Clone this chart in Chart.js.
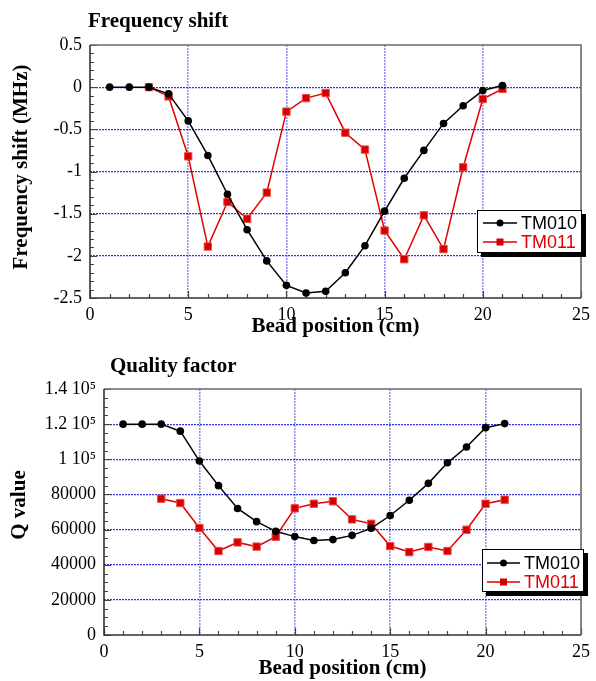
<!DOCTYPE html>
<html>
<head>
<meta charset="utf-8">
<script src="https://cdn.jsdelivr.net/npm/chart.js@4.4.1/dist/chart.umd.min.js"></script>
<style>
body { margin: 0; background: #fff; }
#wrap { position: relative; width: 596px; height: 681px; }
canvas { position: absolute; left: 0; }
</style>
</head>
<body>
<div id="wrap">
  <canvas id="freq" width="596" height="340" style="top:0px"></canvas>
  <canvas id="qual" width="596" height="341" style="top:340px"></canvas>
</div>
<script>
// bead positions (cm)
const positions010 = [1, 2, 3, 4, 5, 6, 7, 8, 9, 10, 11, 12, 13, 14, 15, 16, 17, 18, 19, 20, 21];
const positions011 = [3, 4, 5, 6, 7, 8, 9, 10, 11, 12, 13, 14, 15, 16, 17, 18, 19, 20, 21];

// frequency shift (MHz)
const shift010 = [0, 0, 0, -0.08, -0.40, -0.81, -1.27, -1.69, -2.06, -2.35, -2.44, -2.42, -2.20, -1.88, -1.47, -1.08, -0.75, -0.43, -0.22, -0.04, 0.02];
const shift011 = [0, -0.11, -0.82, -1.89, -1.36, -1.56, -1.25, -0.29, -0.13, -0.07, -0.54, -0.74, -1.70, -2.04, -1.52, -1.92, -0.95, -0.14, -0.02];

// quality factor
const q010 = [120000, 120000, 120000, 116000, 99000, 85000, 72000, 64500, 59000, 56000, 53800, 54300, 56700, 60700, 68000, 76700, 86300, 98000, 107000, 118000, 120300];
const q011 = [77600, 75100, 60900, 47800, 52700, 50300, 55900, 72100, 74700, 76100, 65800, 63300, 50600, 47200, 50100, 47800, 59900, 74700, 77000];

// special tick labels of the Q axis
const qTickLabels = { 140000: '1.4 10\u2075', 120000: '1.2 10\u2075', 100000: '1 10\u2075' };

const RED = '#e00000';
const SERIF = '"Liberation Serif", "Times New Roman", serif';
const SANS = '"Liberation Sans", Arial, sans-serif';

Chart.defaults.font.family = SERIF;
Chart.defaults.color = '#000';

function pairs(xs, ys) {
  return xs.map((x, i) => ({ x: x, y: ys[i] }));
}

function makeDatasets(y010, y011) {
  return [{
    label: 'TM010',
    data: pairs(positions010, y010),
    borderColor: '#000',
    backgroundColor: '#000',
    borderWidth: 1.5,
    pointStyle: 'circle',
    pointRadius: 3.8,
    pointBorderWidth: 0,
    tension: 0
  }, {
    label: 'TM011',
    data: pairs(positions011, y011),
    borderColor: RED,
    backgroundColor: '#d40000',
    borderWidth: 1.5,
    pointStyle: 'rect',
    pointRadius: 5.2,
    pointBorderColor: '#f04848',
    pointBorderWidth: 1,
    tension: 0
  }];
}

function isMajor(v, step) {
  return Math.abs(v / step - Math.round(v / step)) < 1e-6;
}

// frame, inward ticks, titles and the boxed legend
const decor = {
  id: 'decor',
  beforeDatasetsDraw(chart, args, o) {
    const { ctx, chartArea: a, scales: { x, y } } = chart;
    ctx.save();
    ctx.strokeStyle = '#444';
    ctx.lineWidth = 1.2;
    ctx.beginPath();
    for (let v = x.min; v <= x.max + 1e-9; v += o.xMinor) {
      const px = Math.round(x.getPixelForValue(v)) + 0.5;
      const len = isMajor(v, o.xMajor) ? 7 : 4;
      ctx.moveTo(px, a.bottom);
      ctx.lineTo(px, a.bottom - len);
    }
    const n = Math.round((y.max - y.min) / o.yMinor);
    for (let i = 0; i <= n; i++) {
      const v = y.min + i * o.yMinor;
      const py = Math.round(y.getPixelForValue(v)) + 0.5;
      const len = isMajor(v, o.yMajor) ? 7 : 4;
      ctx.moveTo(a.left, py);
      ctx.lineTo(a.left + len, py);
    }
    ctx.stroke();

    // frame
    ctx.lineWidth = 1.6;
    ctx.strokeStyle = '#6a6a6a';
    ctx.beginPath();
    ctx.moveTo(a.left, a.top);
    ctx.lineTo(a.right, a.top);
    ctx.lineTo(a.right, a.bottom);
    ctx.stroke();
    ctx.strokeStyle = '#333';
    ctx.beginPath();
    ctx.moveTo(a.left, a.top);
    ctx.lineTo(a.left, a.bottom);
    ctx.lineTo(a.right, a.bottom);
    ctx.stroke();
    ctx.restore();
  },
  afterDraw(chart, args, o) {
    const { ctx, chartArea: a } = chart;
    ctx.save();
    ctx.fillStyle = '#000';
    ctx.font = 'bold 21px ' + SERIF;
    ctx.textBaseline = 'alphabetic';
    ctx.textAlign = 'left';
    ctx.fillText(o.title, o.titleX, o.titleY);

    ctx.textAlign = 'center';
    ctx.fillText(o.xTitle, (a.left + a.right) / 2, o.xTitleY);

    ctx.save();
    ctx.translate(o.yTitleX, o.yTitleY);
    ctx.rotate(-Math.PI / 2);
    ctx.textBaseline = 'middle';
    ctx.fillText(o.yTitle, 0, 0);
    ctx.restore();

    // legend box with drop shadow
    const L = o.legend;
    ctx.fillStyle = '#000';
    ctx.fillRect(L.x + 4, L.y + 4, L.w, L.h);
    ctx.fillStyle = '#fff';
    ctx.fillRect(L.x, L.y, L.w, L.h);
    ctx.strokeStyle = '#000';
    ctx.lineWidth = 1;
    ctx.strokeRect(L.x + 0.5, L.y + 0.5, L.w - 1, L.h - 1);

    ctx.font = '18px ' + SANS;
    ctx.textAlign = 'left';
    ctx.textBaseline = 'middle';
    chart.data.datasets.forEach((ds, i) => {
      const ry = L.y + L.rowTop + i * L.rowGap;
      const x0 = L.x + L.lineFrom, x1 = L.x + L.lineTo;
      ctx.strokeStyle = ds.borderColor;
      ctx.lineWidth = 1.5;
      ctx.beginPath();
      ctx.moveTo(x0, ry);
      ctx.lineTo(x1, ry);
      ctx.stroke();
      const mx = (x0 + x1) / 2;
      ctx.fillStyle = ds.backgroundColor;
      if (ds.pointStyle === 'rect') {
        ctx.fillRect(mx - 3.5, ry - 3.5, 7, 7);
      } else {
        ctx.beginPath();
        ctx.arc(mx, ry, 3.5, 0, Math.PI * 2);
        ctx.fill();
      }
      ctx.fillStyle = ds.borderColor;
      ctx.fillText(ds.label, x1 + 4, ry + 1);
    });
    ctx.restore();
  }
};

// no grid line on the frame itself
function gridOpts(color, width) {
  return {
    color: c => (c.index === 0 || c.tick === undefined || c.index === c.scale.ticks.length - 1) ? 'rgba(0,0,0,0)' : color,
    lineWidth: width,
    drawTicks: false
  };
}

function makeChart(id, cfg) {
  return new Chart(document.getElementById(id), {
    type: 'line',
    data: { datasets: cfg.datasets },
    options: {
      responsive: false,
      animation: false,
      layout: { padding: cfg.padding },
      plugins: {
        legend: { display: false },
        title: { display: false },
        tooltip: { enabled: false },
        decor: cfg.decor
      },
      scales: {
        x: {
          type: 'linear',
          min: 0,
          max: 25,
          grid: gridOpts('rgba(70, 70, 235, 0.6)', 1.6),
          border: { display: false, dash: [2, 1] },
          afterFit: s => { s.height = cfg.xHeight; },
          ticks: {
            stepSize: 5,
            padding: 6,
            maxRotation: 0,
            autoSkip: false,
            font: { size: 18 },
            color: '#000'
          }
        },
        y: {
          type: 'linear',
          min: cfg.yMin,
          max: cfg.yMax,
          grid: gridOpts('rgba(30, 30, 220, 0.9)', 1.2),
          border: { display: false, dash: [2, 1] },
          afterFit: s => { s.width = cfg.yWidth; },
          ticks: {
            stepSize: cfg.yStep,
            padding: 8,
            autoSkip: false,
            font: { size: 18 },
            color: '#000',
            callback: cfg.yLabel
          }
        }
      }
    },
    plugins: [decor]
  });
}

makeChart('freq', {
  datasets: makeDatasets(shift010, shift011),
  padding: { left: 0, right: 8, top: 45, bottom: 0 },
  xHeight: 42,
  yWidth: 90,
  yMin: -2.5,
  yMax: 0.5,
  yStep: 0.5,
  yLabel: v => String(v),
  decor: {
    xMinor: 1, xMajor: 5, yMinor: 0.1, yMajor: 0.5,
    title: 'Frequency shift', titleX: 88, titleY: 27,
    xTitle: 'Bead position (cm)', xTitleY: 332,
    yTitle: 'Frequency shift (MHz)', yTitleX: 22, yTitleY: 167,
    legend: { x: 477, y: 210, w: 105, h: 43, rowTop: 13, rowGap: 19, lineFrom: 6, lineTo: 40 }
  }
});

makeChart('qual', {
  datasets: makeDatasets(q010, q011),
  padding: { left: 0, right: 7, top: 49, bottom: 0 },
  xHeight: 46,
  yWidth: 104,
  yMin: 0,
  yMax: 140000,
  yStep: 20000,
  yLabel: v => qTickLabels[v] || String(v),
  decor: {
    xMinor: 1, xMajor: 5, yMinor: 5000, yMajor: 20000,
    title: 'Quality factor', titleX: 110, titleY: 32,
    xTitle: 'Bead position (cm)', xTitleY: 334,
    yTitle: 'Q value', yTitleX: 20, yTitleY: 165,
    legend: { x: 482, y: 209, w: 102, h: 43, rowTop: 14, rowGap: 19, lineFrom: 5, lineTo: 38 }
  }
});
</script>
</body>
</html>
